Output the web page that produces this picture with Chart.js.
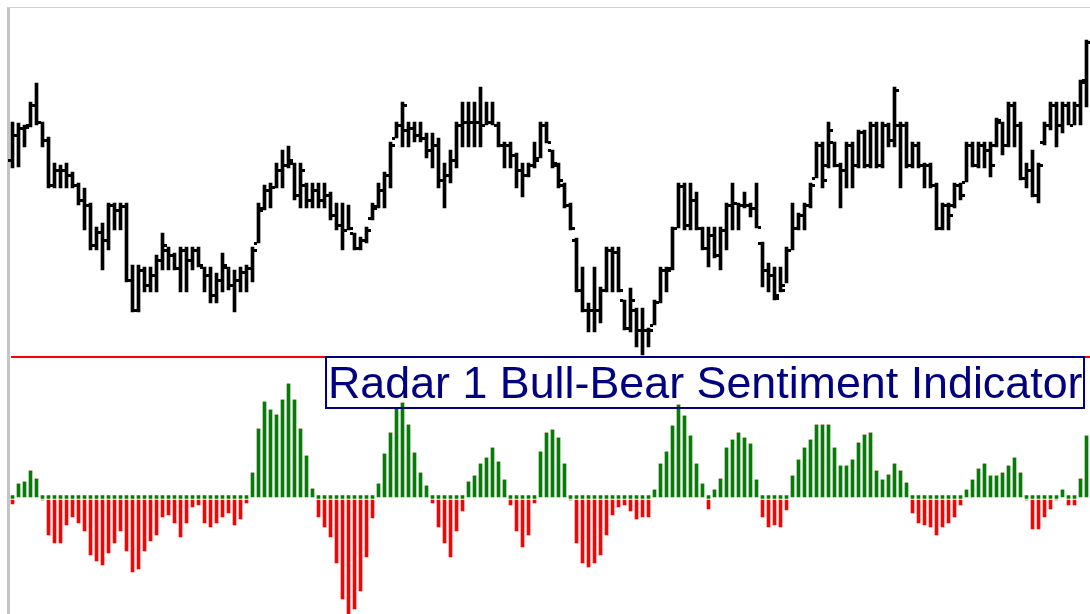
<!DOCTYPE html>
<html>
<head>
<meta charset="utf-8">
<script src="https://cdn.jsdelivr.net/npm/chart.js@4.4.1/dist/chart.umd.min.js"></script>
<style>
  html, body { margin: 0; padding: 0; background: #fff; }
  #wrap { position: relative; width: 1090px; height: 614px; overflow: hidden; }
  #frameLeft { position: absolute; left: 7px; top: 7px; width: 3px; height: 607px; background: #c4c4c4; }
  #frameTop { position: absolute; left: 7px; top: 7px; width: 1083px; height: 1px; background: #d0d0d0; }
  #priceCanvas { position: absolute; left: 0; top: 0; }
  #sentCanvas { position: absolute; left: 0; top: 350px; }
  #label {
    position: absolute; left: 325px; top: 356px; width: 760px; height: 53px;
    box-sizing: border-box; border: 2px solid #000080;
  }
  #label span {
    position: absolute; left: 1px; top: 2px;
    font-family: "Liberation Sans", Arial, sans-serif; font-size: 44.8px; line-height: 44px;
    color: #000080; white-space: nowrap;
  }
</style>
</head>
<body>
<div id="wrap">
  <div id="frameLeft"></div>
  <div id="frameTop"></div>
  <canvas id="priceCanvas" width="1090" height="356"></canvas>
  <canvas id="sentCanvas" width="1090" height="264"></canvas>
  <div id="label"><span>Radar 1 Bull-Bear Sentiment Indicator</span></div>
</div>
<script>
// price bars (high / low / open / close)
const highs = [278,277,275,298,317,278,263,237,235,237,228,217,212,197,173,177,197,197,197,197,
  135,135,133,133,145,167,153,147,153,153,153,153,133,133,127,147,133,130,133,135,
  153,197,215,217,237,250,254,237,237,217,217,217,217,208,197,197,195,167,163,173,
  197,217,228,258,278,298,278,278,278,267,267,262,237,250,278,298,298,298,313,298,
  298,278,258,258,247,237,237,258,278,278,250,237,217,197,162,133,97,133,113,153,
  153,153,100,112,92,92,72,100,133,133,173,217,217,217,208,173,173,173,173,197,
  217,197,208,197,217,158,137,133,133,153,197,187,197,217,258,258,278,258,237,258,
  258,270,270,278,278,278,277,313,278,278,258,258,237,237,217,197,197,217,217,258,
  258,258,258,258,282,278,298,298,278,237,250,237,278,298,298,298,298,298,320,360];
const lows = [232,233,253,273,275,253,212,212,212,212,212,195,170,150,150,130,150,170,170,118,
  88,88,108,108,108,130,130,130,108,108,130,133,108,97,97,108,110,88,108,108,
  118,157,190,192,212,212,232,200,192,192,192,192,192,180,170,150,170,150,150,157,
  180,192,192,212,262,253,253,258,258,242,232,212,192,217,232,253,253,253,253,275,
  275,253,232,232,212,203,223,232,242,257,232,212,192,170,108,88,68,68,77,108,
  108,108,70,68,53,45,53,75,97,108,130,172,170,170,170,150,133,142,130,150,
  170,170,192,183,172,113,108,100,108,117,150,170,170,192,222,212,232,233,192,212,
  212,232,232,232,232,232,253,253,212,232,232,232,212,212,170,170,170,192,200,218,
  233,232,232,223,253,245,253,253,220,212,203,197,255,270,253,267,275,275,275,293];
const opens = [240,265,272,275,295,278,260,215,230,230,225,215,200,195,155,168,160,195,190,194,
  120,90,130,115,125,140,150,145,132,150,140,150,133,125,105,120,133,115,120,128,
  132,157,192,210,213,230,235,237,205,215,200,210,200,205,185,175,170,167,152,160,
  182,194,210,225,262,275,270,272,265,262,250,255,220,225,240,275,278,278,278,275,
  278,275,255,255,245,230,225,235,242,275,250,235,215,195,160,110,90,90,90,110,
  150,148,100,72,90,70,70,75,98,130,132,172,214,175,200,172,152,165,145,170,
  195,197,195,195,192,157,130,125,105,115,150,172,185,195,222,255,235,258,235,230,
  255,235,268,235,275,235,275,260,275,275,235,255,235,235,215,172,195,195,215,218,
  255,235,255,250,255,278,255,295,275,222,230,205,258,275,295,275,295,275,295,320];
const closes = [265,272,273,295,278,260,215,230,230,225,215,200,195,155,168,160,195,190,194,120,
  90,130,115,125,140,155,145,132,150,140,150,135,125,105,120,135,115,120,128,132,
  150,190,210,213,230,235,240,205,230,200,210,200,205,185,175,170,172,152,160,170,
  192,210,225,255,275,295,272,265,262,250,255,220,225,240,275,278,278,278,275,278,
  275,255,255,245,230,225,235,240,275,258,237,220,195,172,110,90,90,90,110,150,
  148,110,72,100,70,70,70,98,130,130,172,214,175,200,172,152,165,145,170,195,
  197,195,195,192,173,130,125,102,110,150,172,185,195,215,255,220,270,235,230,255,
  235,268,235,275,235,275,260,310,275,235,255,235,235,215,172,195,185,215,205,255,
  235,255,250,235,280,255,295,275,222,230,205,235,275,295,275,295,275,295,318,358];

// sentiment histogram
const sentiment = [-4,13,15,26,18,0,-35,-43,-43,-25,-17,-23,-31,-55,-61,-65,-53,-43,-31,-51,
  -72,-69,-51,-41,-35,-17,-15,-23,-37,-23,-7,-5,-23,-27,-23,-17,-13,-25,-19,-3,
  24,68,95,87,82,97,113,97,68,41,8,-17,-27,-37,-63,-99,-114,-109,-91,-57,
  -18,13,43,64,89,94,72,44,24,11,-3,-27,-43,-57,-31,-11,15,21,33,39,
  49,35,17,-5,-31,-47,-35,-3,45,64,67,59,33,0,-43,-63,-67,-63,-55,-35,
  -15,-7,-5,-11,-19,-17,-17,7,33,45,71,92,81,61,33,13,-9,7,18,49,
  57,64,59,53,17,-17,-27,-25,-27,-10,21,37,49,57,72,72,72,49,31,31,
  37,54,62,64,26,17,22,33,26,14,-13,-23,-25,-27,-35,-27,-23,-17,-5,7,
  17,28,33,21,21,24,31,39,24,0,-29,-29,-17,-9,0,7,-5,-5,18,61];
const upperLevel = 140;

const bars = highs.map((h, k) => String(k + 1));

// open tick on the left, close tick on the right
const tickPlugin = {
    id: 'ohlcTicks',
    afterDatasetsDraw(chart) {
        const ctx = chart.ctx;
        const xs = chart.scales.x;
        const ys = chart.scales.y;
        ctx.save();
        ctx.fillStyle = '#000';
        for (let k = 0; k < bars.length; k++) {
            const x = xs.getPixelForValue(k);
            ctx.fillRect(x - 4.5, Math.round(ys.getPixelForValue(opens[k])) - 1, 3, 3);
            ctx.fillRect(x + 1.5, Math.round(ys.getPixelForValue(closes[k])) - 1, 3, 3);
        }
        ctx.restore();
    }
};

const levelPlugin = {
    id: 'levelLine',
    beforeDatasetsDraw(chart) {
        const ctx = chart.ctx;
        const y = Math.round(chart.scales.y.getPixelForValue(upperLevel));
        ctx.save();
        ctx.strokeStyle = '#ff0000';
        ctx.lineWidth = 2;
        ctx.beginPath();
        ctx.moveTo(11, y);
        ctx.lineTo(chart.width, y);
        ctx.stroke();
        ctx.restore();
    }
};

Chart.defaults.animation = false;
Chart.defaults.plugins.legend.display = false;
Chart.defaults.plugins.tooltip.enabled = false;

new Chart(document.getElementById('priceCanvas'), {
    type: 'bar',
    data: {
        labels: bars,
        datasets: [{
            data: highs.map((h, k) => [lows[k], h]),
            backgroundColor: '#000000',
            barThickness: 3
        }]
    },
    options: {
        responsive: false,
        devicePixelRatio: 1,
        layout: { padding: { left: 9.5, right: 0.5, top: 0, bottom: 0 } },
        scales: {
            x: { display: false },
            y: { display: false, min: 44, max: 400 }
        }
    },
    plugins: [tickPlugin]
});

new Chart(document.getElementById('sentCanvas'), {
    type: 'bar',
    data: {
        labels: bars,
        datasets: [{
            label: 'Bull',
            data: sentiment.map(v => Math.max(v, 0)),
            backgroundColor: '#008000',
            barThickness: 3,
            minBarLength: 3
        }, {
            label: 'Bear',
            data: sentiment.map(v => Math.min(v, 0)),
            backgroundColor: '#ff0000',
            barThickness: 3
        }]
    },
    options: {
        responsive: false,
        devicePixelRatio: 1,
        layout: { padding: { left: 9.5, right: 0.5, top: 0, bottom: 0 } },
        scales: {
            x: { display: false, stacked: true },
            y: { display: false, stacked: true, min: -117, max: 147 }
        }
    },
    plugins: [levelPlugin]
});
</script>
</body>
</html>
